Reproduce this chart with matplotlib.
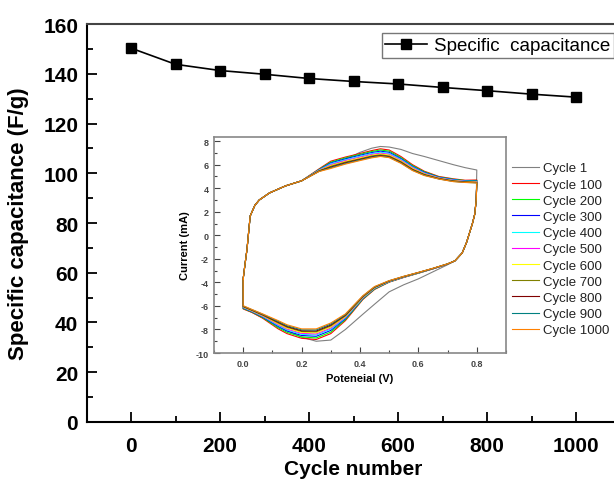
import matplotlib
matplotlib.use('Agg')
import matplotlib.pyplot as plt
from matplotlib.ticker import MultipleLocator

plt.rcParams['font.family'] = ['Liberation Sans', 'DejaVu Sans']
plt.rcParams['axes.unicode_minus'] = False

# capacitance retention over cycling
cycle_number = [0, 100, 200, 300, 400, 500, 600, 700, 800, 900, 1000]
capacitance = [150.3, 143.8, 141.3, 139.8, 138.1, 136.9, 135.9, 134.5, 133.2, 131.8, 130.6]

# CV loops: shared start of the anodic sweep
v_rise = [0.0, 0.005, 0.013, 0.024, 0.04, 0.055, 0.09, 0.145, 0.2]
i_rise = [-3.7, -2.7, -1.2, 1.64, 2.55, 3.0, 3.6, 4.2, 4.63]

# anodic sweep, per cycle
v_anodic = [0.26, 0.3, 0.35, 0.4, 0.44, 0.47, 0.5, 0.54, 0.58, 0.62, 0.67, 0.72, 0.76, 0.8]
i_anodic = [
    [5.45, 5.95, 6.45, 7.05, 7.4, 7.55, 7.5, 7.3, 6.95, 6.7, 6.35, 6.0, 5.75, 5.55],
    [5.65, 6.3, 6.65, 6.95, 7.2, 7.35, 7.25, 6.7, 6.0, 5.45, 5.0, 4.8, 4.68, 4.7],
    [5.6, 6.22, 6.58, 6.88, 7.12, 7.25, 7.15, 6.6, 5.92, 5.4, 4.96, 4.76, 4.65, 4.66],
    [5.57, 6.15, 6.5, 6.8, 7.03, 7.15, 7.05, 6.52, 5.85, 5.35, 4.93, 4.73, 4.62, 4.62],
    [5.55, 6.08, 6.42, 6.72, 6.95, 7.06, 6.96, 6.45, 5.8, 5.3, 4.9, 4.7, 4.6, 4.58],
    [5.52, 6.0, 6.35, 6.64, 6.87, 6.98, 6.88, 6.38, 5.74, 5.26, 4.88, 4.67, 4.58, 4.55],
    [5.5, 5.93, 6.28, 6.57, 6.8, 6.91, 6.81, 6.32, 5.68, 5.22, 4.85, 4.64, 4.56, 4.52],
    [5.48, 5.86, 6.22, 6.5, 6.74, 6.84, 6.74, 6.26, 5.62, 5.18, 4.83, 4.62, 4.54, 4.5],
    [5.46, 5.8, 6.16, 6.45, 6.68, 6.78, 6.68, 6.2, 5.57, 5.14, 4.81, 4.6, 4.52, 4.48],
    [5.44, 5.74, 6.1, 6.4, 6.63, 6.73, 6.63, 6.15, 5.53, 5.11, 4.79, 4.58, 4.5, 4.46],
    [5.42, 5.68, 6.05, 6.35, 6.58, 6.7, 6.6, 6.12, 5.5, 5.08, 4.78, 4.56, 4.49, 4.45],
]

# shared turn at the vertex potential
v_turn = [0.798, 0.793, 0.785, 0.775, 0.765, 0.75, 0.725]
i_turn = [3.0, 1.8, 1.0, 0.2, -0.6, -1.5, -2.17]

# cathodic sweep, per cycle
v_cathodic = [0.7, 0.65, 0.6, 0.55, 0.5, 0.45, 0.41, 0.35, 0.3, 0.25, 0.2, 0.15, 0.12, 0.067, 0.03, 0.0]
i_cathodic = [
    [-2.5, -3.1, -3.7, -4.2, -4.8, -5.85, -6.7, -8.0, -8.9, -9.0, -8.65, -8.1, -7.75, -7.0, -6.55, -6.2],
    [-2.45, -2.85, -3.22, -3.58, -3.98, -4.6, -5.45, -7.25, -8.35, -8.85, -8.75, -8.35, -7.95, -7.05, -6.55, -6.26],
    [-2.45, -2.84, -3.21, -3.56, -3.96, -4.56, -5.4, -7.16, -8.22, -8.72, -8.63, -8.24, -7.85, -6.99, -6.51, -6.22],
    [-2.44, -2.84, -3.2, -3.55, -3.94, -4.52, -5.35, -7.08, -8.08, -8.58, -8.51, -8.13, -7.74, -6.94, -6.48, -6.18],
    [-2.44, -2.83, -3.19, -3.54, -3.93, -4.5, -5.32, -7.01, -7.97, -8.47, -8.41, -8.04, -7.66, -6.9, -6.45, -6.14],
    [-2.44, -2.83, -3.18, -3.53, -3.91, -4.47, -5.28, -6.95, -7.88, -8.38, -8.33, -7.96, -7.59, -6.86, -6.42, -6.11],
    [-2.43, -2.82, -3.18, -3.52, -3.9, -4.45, -5.25, -6.9, -7.79, -8.29, -8.25, -7.89, -7.52, -6.82, -6.4, -6.09],
    [-2.43, -2.82, -3.17, -3.51, -3.89, -4.42, -5.22, -6.84, -7.7, -8.2, -8.17, -7.81, -7.45, -6.78, -6.37, -6.06],
    [-2.43, -2.81, -3.16, -3.5, -3.88, -4.4, -5.19, -6.79, -7.63, -8.13, -8.11, -7.75, -7.39, -6.75, -6.35, -6.04],
    [-2.42, -2.81, -3.16, -3.49, -3.86, -4.38, -5.16, -6.74, -7.54, -8.04, -8.03, -7.68, -7.32, -6.71, -6.32, -6.01],
    [-2.42, -2.8, -3.15, -3.48, -3.85, -4.35, -5.13, -6.68, -7.45, -7.95, -7.95, -7.6, -7.25, -6.68, -6.3, -5.98],
]

cv_labels = ['Cycle 1', 'Cycle 100', 'Cycle 200', 'Cycle 300', 'Cycle 400', 'Cycle 500',
             'Cycle 600', 'Cycle 700', 'Cycle 800', 'Cycle 900', 'Cycle 1000']
cv_colors = ['#808080', '#FF0000', '#00FF00', '#0000FF', '#00FFFF', '#FF00FF',
             '#FFFF00', '#808000', '#800000', '#008080', '#FF8000']

fig = plt.figure(figsize=(6.14, 4.81), dpi=100)

# main axes, right edge runs just past the figure border
ax = fig.add_axes([0.1409, 0.1206, 0.8697, 0.8274])
ax.plot(cycle_number, capacitance, color='black', lw=1.2, marker='s',
        markersize=6.5, label='Specific  capacitance')
ax.set_xlim(-100, 1100)
ax.set_ylim(0, 160)
ax.xaxis.set_major_locator(MultipleLocator(200))
ax.xaxis.set_minor_locator(MultipleLocator(100))
ax.yaxis.set_major_locator(MultipleLocator(20))
ax.yaxis.set_minor_locator(MultipleLocator(10))
ax.tick_params(which='both', direction='in', top=False, right=False, width=1.3)
ax.tick_params(which='major', length=7, labelsize=15)
ax.tick_params(axis='x', which='major', pad=10)
ax.tick_params(axis='y', which='major', pad=6)
ax.tick_params(which='minor', length=4)
for lab in ax.get_xticklabels() + ax.get_yticklabels():
    lab.set_fontweight('bold')
for s in ax.spines.values():
    s.set_linewidth(1.5)
ax.spines['top'].set_color('#444444')
ax.set_xlabel('Cycle number', fontsize=15, fontweight='bold', labelpad=3)
ax.set_ylabel('Specific capacitance (F/g)', fontsize=16, fontweight='bold', labelpad=10)
leg = ax.legend(loc='upper left', bbox_to_anchor=(0.535, 1.0), fontsize=13.5,
                handlelength=2.2, handletextpad=0.4, borderpad=0.2,
                fancybox=False, edgecolor='#555555')
leg.get_frame().set_linewidth(1.0)

# inset: cyclic voltammograms
ins = fig.add_axes([0.3485, 0.264, 0.4756, 0.449])
for k in range(len(cv_labels)):
    v = v_rise + v_anodic + v_turn + v_cathodic + [v_rise[0]]
    i = i_rise + i_anodic[k] + i_turn + i_cathodic[k] + [i_rise[0]]
    ins.plot(v, i, color=cv_colors[k], lw=0.8, label=cv_labels[k])
ins.set_xlim(-0.1, 0.9)
ins.set_ylim(-10, 8.35)
ins.xaxis.set_major_locator(MultipleLocator(0.2))
ins.xaxis.set_minor_locator(MultipleLocator(0.1))
ins.yaxis.set_major_locator(MultipleLocator(2))
ins.yaxis.set_minor_locator(MultipleLocator(1))
ins.tick_params(which='both', direction='in', top=False, right=False, width=0.8,
                colors='#444444')
ins.tick_params(which='major', length=4, labelsize=6.5, pad=4)
ins.tick_params(which='minor', length=2.5)
for lab in ins.get_xticklabels() + ins.get_yticklabels():
    lab.set_fontweight('bold')
for s in ins.spines.values():
    s.set_linewidth(1.2)
    s.set_color('#888888')
ins.set_xlabel('Poteneial (V)', fontsize=8, fontweight='bold', labelpad=4)
ins.set_ylabel('Current (mA)', fontsize=8, fontweight='bold', labelpad=4)
ins.legend(loc='upper left', bbox_to_anchor=(0.995, 0.92), frameon=False, fontsize=9.5,
           handlelength=2.0, handletextpad=0.3, labelspacing=0.3, borderaxespad=0.2,
           labelcolor='#222222')

fig.savefig('out.png', dpi=100)
